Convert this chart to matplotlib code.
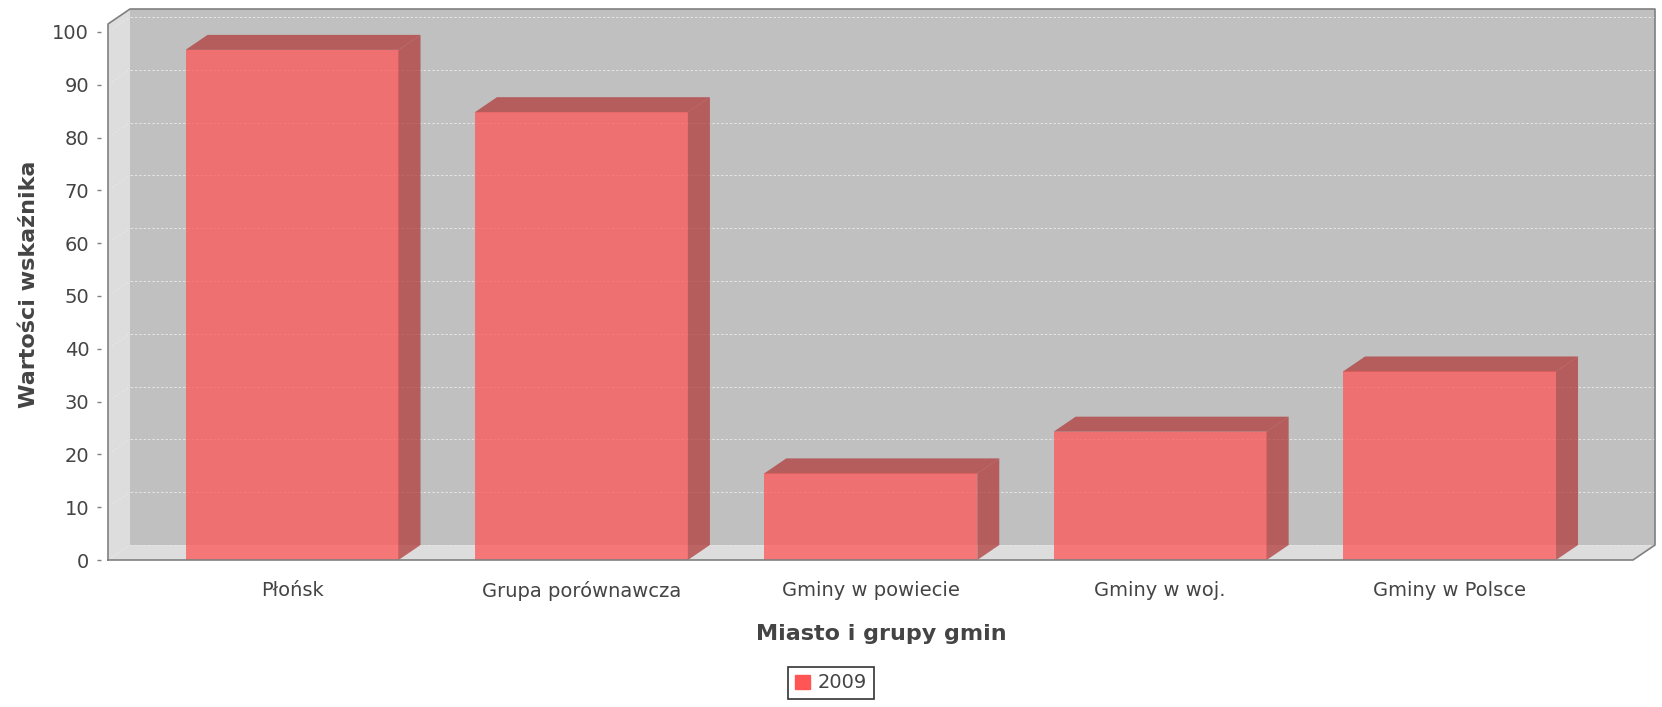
import matplotlib
matplotlib.use("Agg")
import matplotlib.pyplot as plt
from matplotlib.patches import Polygon, Rectangle, Patch

# data
categories = ["Płońsk", "Grupa porównawcza", "Gminy w powiecie", "Gminy w woj.", "Gminy w Polsce"]
values = [96.6, 84.8, 16.4, 24.3, 35.7]
series_label = "2009"
y_ticks = list(range(0, 101, 10))

W, H = 1662, 707
DX, DY = 22, 15          # 3D depth in pixels
RED = (1.0, 85 / 255, 85 / 255)
RED_DARK = (178 / 255, 59 / 255, 59 / 255)
TXT = "#444444"
GRID = "#e6e6e6"

plt.rcParams["font.family"] = ["DejaVu Sans"]

fig = plt.figure(figsize=(W / 100, H / 100), dpi=100)
ax = fig.add_axes([108 / W, (H - 560) / H, (1633 - 108) / W, (560 - 24) / H])
x0, x1 = -0.636, 4.634
y0, y1 = 0, 101.5
ax.set_xlim(x0, x1)
ax.set_ylim(y0, y1)
ax.patch.set_visible(False)
for s in ax.spines.values():
    s.set_visible(False)

# depth offsets in data units
ddx = DX * (x1 - x0) / (1633 - 108)
ddy = DY * (y1 - y0) / (560 - 24)

# back panel, wall and floor
ax.add_patch(Rectangle((x0 + ddx, y0 + ddy), x1 - x0, y1 - y0, fc="#c0c0c0",
                       ec="none", clip_on=False, zorder=0))
ax.add_patch(Polygon([(x0, y0), (x0, y1), (x0 + ddx, y1 + ddy), (x0 + ddx, y0 + ddy)],
                     fc="#dddddd", ec="none", clip_on=False, zorder=0.5))
ax.add_patch(Polygon([(x0, y0), (x0 + ddx, y0 + ddy), (x1 + ddx, y0 + ddy), (x1, y0)],
                     fc="#dddddd", ec="none", clip_on=False, zorder=0.5))

# gridlines on the back panel and the wall
for t in y_ticks:
    ax.plot([x0 + ddx, x1 + ddx], [t + ddy, t + ddy], color=GRID, lw=0.7,
            ls=(0, (2.5, 2)), clip_on=False, zorder=1)
    ax.plot([x0, x0 + ddx], [t, t + ddy], color=GRID, lw=0.7,
            ls=(0, (2.5, 2)), clip_on=False, zorder=1)

# plot outline
ax.plot([x0, x0, x0 + ddx, x1 + ddx, x1 + ddx, x1, x0],
        [y0, y1, y1 + ddy, y1 + ddy, y0 + ddy, y0, y0],
        color="#808080", lw=1.2, clip_on=False, zorder=6)

# bars
xs = list(range(len(categories)))
bw = 0.736
ax.bar(xs, values, width=bw, color=RED, alpha=0.75, lw=0, zorder=3)
for x, v in zip(xs, values):
    xl, xr = x - bw / 2, x + bw / 2
    ax.add_patch(Polygon([(xl, v), (xl + ddx, v + ddy), (xr + ddx, v + ddy), (xr, v)],
                         fc=RED_DARK, alpha=0.75, ec="none", clip_on=False, zorder=3))
    ax.add_patch(Polygon([(xr, 0), (xr, v), (xr + ddx, v + ddy), (xr + ddx, ddy)],
                         fc=RED_DARK, alpha=0.75, ec="none", clip_on=False, zorder=3))

# axes
ax.spines["left"].set_position(("outward", 5))
ax.set_yticks(y_ticks)
ax.tick_params(axis="y", length=3, width=1, color="#808080", pad=5.5,
               labelsize=14, labelcolor=TXT)
ax.set_xticks(xs, categories)
ax.tick_params(axis="x", length=0, pad=15, labelsize=14, labelcolor=TXT)

fig.text(881 / W, (H - 634) / H, "Miasto i grupy gmin", ha="center", va="center",
         fontsize=16, fontweight="bold", color=TXT)
fig.text(29 / W, (H - 284) / H, "Wartości wskaźnika", ha="center", va="center",
         rotation=90, fontsize=16, fontweight="bold", color=TXT)

leg = fig.legend(handles=[Patch(color=RED)], labels=[series_label], loc="center",
                 bbox_to_anchor=(831 / W, (H - 683) / H), frameon=True, fancybox=False,
                 fontsize=14, handlelength=0.75, handleheight=0.75, handletextpad=0.4,
                 borderpad=0.35, borderaxespad=0)
leg.get_frame().set_edgecolor("black")
leg.get_frame().set_linewidth(1.2)
for t in leg.get_texts():
    t.set_color(TXT)

fig.savefig("out.png", dpi=100, facecolor="white")
